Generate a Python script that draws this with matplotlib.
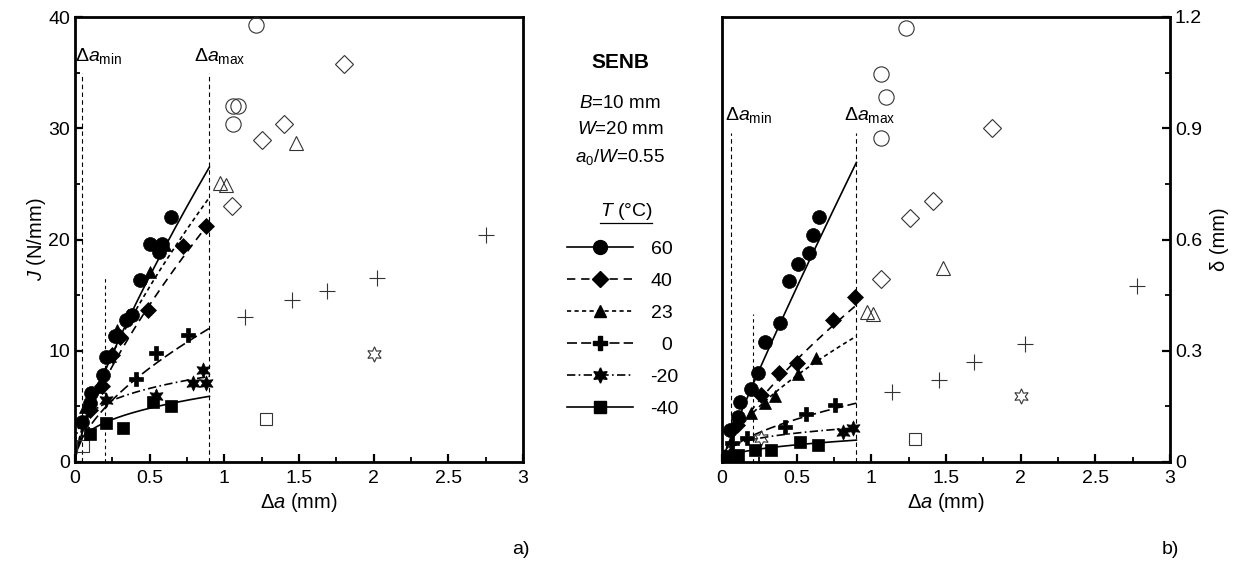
import numpy as np
import matplotlib
matplotlib.use('Agg')
import matplotlib.pyplot as plt
from matplotlib.lines import Line2D
from matplotlib.ticker import MultipleLocator, FuncFormatter

plt.rcParams['font.family'] = ['Liberation Sans', 'DejaVu Sans']
plt.rcParams['mathtext.fontset'] = 'custom'
plt.rcParams['mathtext.rm'] = 'Liberation Sans'
plt.rcParams['mathtext.it'] = 'Liberation Sans:italic'
plt.rcParams['mathtext.bf'] = 'Liberation Sans:bold'

# ---------------- data : panel a)  J (N/mm) vs delta a (mm) ----------------
temps = ['60', '40', '23', '0', '-20', '-40']

a60_x = [0.05, 0.10, 0.11, 0.19, 0.21, 0.27, 0.34, 0.38, 0.435, 0.50, 0.56, 0.58, 0.64]
a60_J = [3.6, 5.3, 6.2, 7.8, 9.4, 11.3, 12.8, 13.2, 16.4, 19.6, 18.9, 19.6, 22.0]
a40_x = [0.10, 0.18, 0.25, 0.30, 0.49, 0.72, 0.88]
a40_J = [4.7, 6.8, 9.6, 11.2, 13.7, 19.4, 21.2]
a23_x = [0.067, 0.155, 0.235, 0.28, 0.355, 0.50, 0.60]
a23_J = [4.95, 6.7, 9.5, 11.9, 13.2, 17.1, 19.5]
a0_x = [0.41, 0.54, 0.76]
a0_J = [7.5, 9.8, 11.4]
am20_x = [0.21, 0.54, 0.79, 0.86, 0.88]
am20_J = [5.6, 5.9, 7.1, 8.3, 7.1]
am40_x = [0.10, 0.21, 0.32, 0.52, 0.64]
am40_J = [2.5, 3.5, 3.1, 5.4, 5.0]

# open symbols (outside validity range)
ao60_x = [1.21, 1.06, 1.09, 1.06]
ao60_J = [39.3, 32.0, 32.0, 30.4]
ao40_x = [1.80, 1.40, 1.25, 1.05]
ao40_J = [35.8, 30.4, 28.9, 23.0]
ao23_x = [1.48, 0.97, 1.01]
ao23_J = [28.7, 25.1, 24.9]
ao0_x = [1.14, 1.45, 1.69, 2.02, 2.75]
ao0_J = [13.0, 14.6, 15.4, 16.5, 20.4]
aom20_x = [2.0]
aom20_J = [9.7]
aom40_x = [1.28, 0.055]
aom40_J = [3.9, 1.4]

# power-law fit parameters J = C * da^n
fitJ_C = [28.8, 23.2, 25.6, 12.8, 7.91, 6.12]
fitJ_n = [0.786, 0.715, 0.70, 0.60, 0.257, 0.34]

# ---------------- data : panel b)  delta (mm) vs delta a (mm) ----------------
b60_x = [0.053, 0.107, 0.12, 0.195, 0.24, 0.29, 0.39, 0.45, 0.51, 0.585, 0.61, 0.65]
b60_d = [0.086, 0.121, 0.162, 0.197, 0.24, 0.324, 0.375, 0.488, 0.534, 0.563, 0.612, 0.66]
b40_x = [0.10, 0.26, 0.38, 0.50, 0.74, 0.89]
b40_d = [0.10, 0.18, 0.24, 0.267, 0.383, 0.445]
b23_x = [0.195, 0.29, 0.355, 0.51, 0.63]
b23_d = [0.132, 0.159, 0.178, 0.237, 0.28]
b0_x = [0.07, 0.17, 0.42, 0.56, 0.76]
b0_d = [0.05, 0.065, 0.094, 0.129, 0.154]
bm20_x = [0.81, 0.88]
bm20_d = [0.081, 0.092]
bm40_x = [0.03, 0.107, 0.22, 0.33, 0.52, 0.64]
bm40_d = [0.015, 0.019, 0.032, 0.032, 0.054, 0.046]

bo60_x = [1.23, 1.065, 1.10, 1.065]
bo60_d = [1.17, 1.046, 0.984, 0.874]
bo40_x = [1.81, 1.41, 1.26, 1.065]
bo40_d = [0.90, 0.704, 0.658, 0.494]
bo23_x = [1.48, 0.97, 1.01]
bo23_d = [0.523, 0.405, 0.40]
bo0_x = [1.14, 1.45, 1.69, 2.03, 2.78]
bo0_d = [0.19, 0.22, 0.27, 0.318, 0.475]
bom20_x = [2.0, 0.26]
bom20_d = [0.178, 0.065]
bom40_x = [1.29]
bom40_d = [0.062]

fitD_C = [0.89, 0.457, 0.363, 0.168, 0.095, 0.0616]
fitD_n = [0.92, 0.73, 0.64, 0.54, 0.284, 0.41]

# validity limits
a_da_min, a_da_max, a_da_short = 0.045, 0.90, 0.20
a_lim_top, a_short_top = 35.0, 16.5
b_da_min, b_da_max, b_da_short = 0.06, 0.90, 0.21
b_lim_top, b_short_top = 0.887, 0.40
fit_end = 0.9

# ---------------- styles ----------------
star6 = (6, 1, 0)
markers = ['o', 'D', '^', 'P', star6, 's']
msizes = [10, 8.5, 9, 10, 11, 9]
lstyles = ['-', (0, (5, 3.5)), (0, (2.5, 2)), (0, (6, 2.5)), (0, (5, 2, 1, 2)), '-']
open_ms = [11, 9.5, 10, 11, 11, 9]
open_markers = ['o', 'D', '^', '+', star6, 's']

fig = plt.figure(figsize=(12.42, 5.65), dpi=100)
W, H = 1242, 565
axA = fig.add_axes([75 / W, 1 - 462 / H, 448 / W, 445 / H])
axB = fig.add_axes([722 / W, 1 - 462 / H, 448 / W, 445 / H])

filledA = [(a60_x, a60_J), (a40_x, a40_J), (a23_x, a23_J), (a0_x, a0_J), (am20_x, am20_J), (am40_x, am40_J)]
openA = [(ao60_x, ao60_J), (ao40_x, ao40_J), (ao23_x, ao23_J), (ao0_x, ao0_J), (aom20_x, aom20_J), (aom40_x, aom40_J)]
filledB = [(b60_x, b60_d), (b40_x, b40_d), (b23_x, b23_d), (b0_x, b0_d), (bm20_x, bm20_d), (bm40_x, bm40_d)]
openB = [(bo60_x, bo60_d), (bo40_x, bo40_d), (bo23_x, bo23_d), (bo0_x, bo0_d), (bom20_x, bom20_d), (bom40_x, bom40_d)]

xfit = np.linspace(0, fit_end, 200)


def draw_panel(ax, filled, opened, fC, fn, dmin, dmax, dshort, ltop, stop, txt_y, txt_min_x, txt_max_x):
    # validity lines
    ax.vlines([dmin, dmax], 0, ltop, colors='k', linestyles=(0, (4, 3)), lw=0.8, zorder=1)
    ax.vlines([dshort], 0, stop, colors='k', linestyles=(0, (3, 3)), lw=0.8, zorder=1)
    ax.text(txt_min_x, txt_y, r'$\Delta \it{a}_{\rm min}$', fontsize=14, ha='left', va='center')
    ax.text(txt_max_x, txt_y, r'$\Delta \it{a}_{\rm max}$', fontsize=14, ha='left', va='center')
    for i in range(6):
        ax.plot(xfit, fC[i] * xfit ** fn[i], color='k', ls=lstyles[i], lw=1.2, zorder=2)
    for i in range(6):
        ox, oy = opened[i]
        ax.plot(ox, oy, ls='none', marker=open_markers[i], ms=open_ms[i], mfc='none',
                mec='#333333', mew=0.8, zorder=3)
    for i in range(6):
        fx, fy = filled[i]
        ax.plot(fx, fy, ls='none', marker=markers[i], ms=msizes[i], mfc='k', mec='k',
                mew=0.5, zorder=4)
    ax.set_xlim(0, 3)
    ax.xaxis.set_major_locator(MultipleLocator(0.5))
    ax.xaxis.set_minor_locator(MultipleLocator(0.25))
    ax.xaxis.set_major_formatter(FuncFormatter(lambda v, p: f'{v:g}'))
    ax.yaxis.set_major_formatter(FuncFormatter(lambda v, p: f'{v:g}'))
    for s in ax.spines.values():
        s.set_linewidth(2.0)
    ax.tick_params(which='major', direction='in', length=6, width=1.6, labelsize=14)
    ax.tick_params(which='minor', direction='in', length=3.5, width=1.3)
    ax.tick_params(axis='x', top=False, which='both')
    ax.tick_params(axis='x', which='major', pad=6)
    ax.set_xlabel(r'$\Delta \it{a}$ (mm)', fontsize=14.5, labelpad=3)


draw_panel(axA, filledA, openA, fitJ_C, fitJ_n, a_da_min, a_da_max, a_da_short,
           a_lim_top, a_short_top, 36.5, 0.0, 0.80)
axA.set_ylim(0, 40)
axA.yaxis.set_major_locator(MultipleLocator(10))
axA.yaxis.set_minor_locator(MultipleLocator(5))
axA.tick_params(axis='y', which='both', left=True, right=False)
axA.set_ylabel(r'$\it{J}$ (N/mm)', fontsize=14.5, labelpad=0)

draw_panel(axB, filledB, openB, fitD_C, fitD_n, b_da_min, b_da_max, b_da_short,
           b_lim_top, b_short_top, 0.935, 0.02, 0.82)
axB.set_ylim(0, 1.2)
axB.yaxis.set_major_locator(MultipleLocator(0.3))
axB.yaxis.set_minor_locator(MultipleLocator(0.15))
axB.yaxis.tick_right()
axB.tick_params(axis='y', which='both', left=False, right=True)
axB.yaxis.set_label_position('right')
axB.set_ylabel('δ (mm)', fontsize=14.5, labelpad=6)

# ---------------- central annotation and legend ----------------
cx = 620 / W
fig.text(cx, 1 - 63 / H, 'SENB', fontsize=15, fontweight='bold', ha='center', va='center')
fig.text(cx, 1 - 103 / H, r'$\it{B}$=10 mm', fontsize=13.5, ha='center', va='center')
fig.text(cx, 1 - 130 / H, r'$\it{W}$=20 mm', fontsize=13.5, ha='center', va='center')
fig.text(cx, 1 - 157 / H, r'$\it{a}_{0}$/$\it{W}$=0.55', fontsize=13.5, ha='center', va='center')
fig.text(cx + 6 / W, 1 - 212 / H, r'$\it{T}$ (°C)', fontsize=14, ha='center', va='center')
fig.add_artist(Line2D([600 / W, 652 / W], [1 - 223 / H, 1 - 223 / H], color='k', lw=0.9))

handles = [Line2D([], [], color='k', ls=lstyles[i], lw=1.2, marker=markers[i], ms=msizes[i],
                  mfc='k', mec='k') for i in range(6)]
labels = ['60', '40', '23', '\u20070', '-20', '-40']
fig.legend(handles, labels, loc='upper left', bbox_to_anchor=(567 / W, 1 - 240 / H),
           frameon=False, handlelength=3.4, handletextpad=0.9, labelspacing=0.74,
           borderpad=0, borderaxespad=0, fontsize=14)

fig.text(521 / W, 1 - 549 / H, 'a)', fontsize=14, ha='center', va='center')
fig.text(1170 / W, 1 - 549 / H, 'b)', fontsize=14, ha='center', va='center')

fig.savefig('out.png', dpi=100)
